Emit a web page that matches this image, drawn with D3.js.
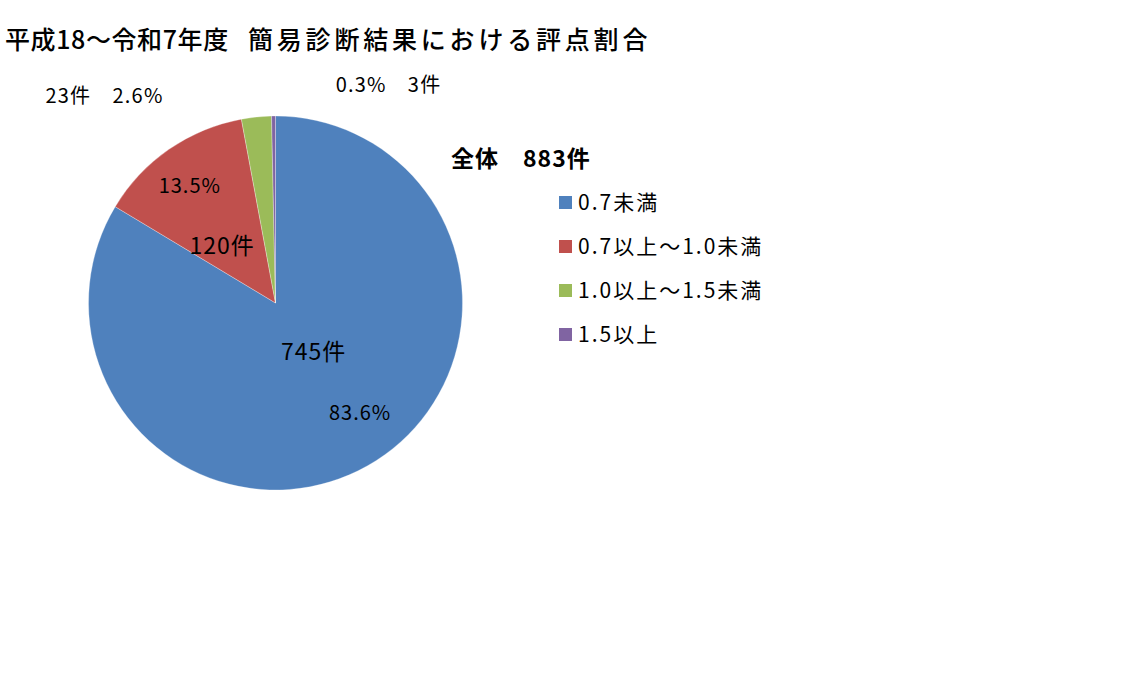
<!DOCTYPE html>
<html lang="ja">
<head>
  <meta charset="utf-8">
  <script src="https://d3js.org/d3.v7.min.js"></script>
  <style>
    body { margin: 0; background: #fff; }
    text { font-family: "Noto Sans CJK JP", sans-serif; fill: #000; }
  </style>
</head>
<body>
  <div id="my_dataviz"></div>
  <script>
    // data
    const categories = ["0.7未満", "0.7以上～1.0未満", "1.0以上～1.5未満", "1.5以上"];
    const counts = [745, 120, 23, 3];
    const percentLabels = ["83.6%", "13.5%", "2.6%", "0.3%"];
    const colors = ["#4F81BD", "#C0504D", "#9BBB59", "#8064A2"];
    const titleParts = ["平成18～令和7年度", "簡易診断結果における評点割合"];
    const totalLabel = "全体　883件";

    const width = 1145, height = 692;
    const cx = 275.5, cy = 303, radius = 187;

    const svg = d3.select("#my_dataviz")
      .append("svg")
        .attr("width", width)
        .attr("height", height);

    // title
    const title = svg.append("text")
      .attr("y", 49)
      .style("font-size", "25px")
      .style("font-weight", "500");
    title.append("tspan").attr("x", 5).style("letter-spacing", "0.6px").text(titleParts[0]);
    title.append("tspan").attr("x", 248).style("letter-spacing", "3.8px").text(titleParts[1]);

    const g = svg.append("g")
      .attr("transform", `translate(${cx},${cy})`);

    const pie = d3.pie().sort(null).value(d => d)
      .startAngle(0).endAngle(2 * Math.PI);
    const arcs = pie(counts);
    const arc = d3.arc().innerRadius(0).outerRadius(radius);

    g.selectAll("path")
      .data(arcs)
      .join("path")
        .attr("d", arc)
        .attr("fill", (d, i) => colors[i])
        .attr("stroke", "#fff")
        .attr("stroke-width", 0.6)
        .attr("stroke-opacity", 0.5);

    // polar helper (angle from 12 o'clock, clockwise)
    function polar(a, r) {
      return [Math.sin(a) * r, -Math.cos(a) * r];
    }
    const deg = Math.PI / 180;
    const mid = d => (d.startAngle + d.endAngle) / 2;

    // labels inside: blue and red slices
    const inside = [
      {i: 0, text: `${counts[0]}件`, da: -8.5, r: 62, size: 23},
      {i: 0, text: percentLabels[0], da: -8, r: 139, size: 20},
      {i: 1, text: percentLabels[1], da: -1.5, r: 145, size: 20},
      {i: 1, text: `${counts[1]}件`, da: -8.5, r: 78, size: 23}
    ];
    g.selectAll(".inlabel")
      .data(inside)
      .join("text")
        .attr("class", "inlabel")
        .attr("x", d => polar(mid(arcs[d.i]) + d.da * deg, d.r)[0])
        .attr("y", d => polar(mid(arcs[d.i]) + d.da * deg, d.r)[1])
        .attr("dy", "0.35em")
        .attr("text-anchor", "middle")
        .style("font-size", d => d.size + "px")
        .style("letter-spacing", "1px")
        .text(d => d.text);

    // outside labels: green and purple
    const outside = [
      {i: 2, text: `${counts[2]}件　${percentLabels[2]}`, dx: -171, dy: -207},
      {i: 3, text: `${percentLabels[3]}　${counts[3]}件`, dx: 113, dy: -218}
    ];
    g.selectAll(".outlabel")
      .data(outside)
      .join("text")
        .attr("class", "outlabel")
        .attr("x", d => d.dx)
        .attr("y", d => d.dy)
        .attr("dy", "0.35em")
        .attr("text-anchor", "middle")
        .style("font-size", "20px")
        .style("letter-spacing", "1.2px")
        .text(d => d.text);

    // legend title
    svg.append("text")
      .attr("x", 451)
      .attr("y", 167)
      .style("font-size", "23px")
      .style("font-weight", "bold")
      .style("letter-spacing", "1px")
      .text(totalLabel);

    // legend
    const legend = svg.append("g")
      .attr("transform", "translate(559,196)");
    const legY = d3.scaleBand().domain(categories).range([0, 176]);
    const item = legend.selectAll(".item")
      .data(categories)
      .join("g")
        .attr("class", "item")
        .attr("transform", d => `translate(0,${legY(d)})`);
    item.append("rect")
      .attr("width", 13)
      .attr("height", 13)
      .attr("fill", (d, i) => colors[i]);
    item.append("text")
      .attr("x", 19)
      .attr("y", 7)
      .attr("dy", "0.35em")
      .style("font-size", "21px")
      .style("letter-spacing", "2px")
      .text(d => d);
  </script>
</body>
</html>
